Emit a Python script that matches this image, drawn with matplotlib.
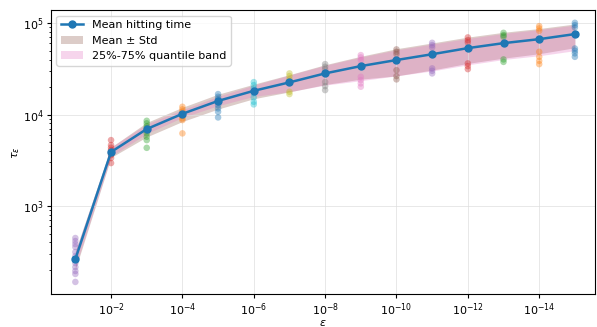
import matplotlib.pyplot as plt
from matplotlib.ticker import NullLocator

# epsilon levels and summary stats of the hitting time
eps = [1e-1, 1e-2, 1e-3, 1e-4, 1e-5, 1e-6, 1e-7, 1e-8,
       1e-9, 1e-10, 1e-11, 1e-12, 1e-13, 1e-14, 1e-15]
mean_tau = [263, 3900, 6950, 10200, 14100, 18200, 22500, 28200,
            33900, 39500, 45700, 53300, 60400, 66800, 75900]
std_tau = [60, 500, 1250, 1800, 2600, 3300, 4800, 6900,
           9500, 13000, 15000, 17000, 19000, 20500, 22000]
q25_tau = [215, 3500, 6200, 9300, 12500, 15800, 17800, 21000,
           23500, 26500, 30000, 35000, 40000, 44000, 50000]
q75_tau = [320, 4400, 7900, 11300, 15800, 21000, 27000, 34500,
           42500, 51000, 59000, 68000, 77000, 85000, 95000]

# individual runs per epsilon
samples = [
    [447, 414, 384, 357, 314, 284, 238, 215, 195, 181, 148],
    [5260, 4640, 4350, 4100, 3950, 3790, 3610, 3350, 2950],
    [8550, 8020, 7480, 7060, 6650, 6230, 5720, 5260, 4330],
    [12170, 11400, 10740, 10120, 9630, 9090, 8710, 6230],
    [16750, 15660, 14660, 13700, 12710, 11690, 10740, 9310],
    [22640, 21000, 19300, 17180, 15400, 13800, 12920],
    [28200, 26360, 24260, 17750, 16750],
    [35640, 33300, 31190, 22700, 20480, 18520],
    [44700, 42170, 39440, 25900, 23810, 21920, 20150],
    [51600, 48560, 45770, 30600, 26360, 24260],
    [60900, 57500, 54240, 32000, 30100, 28200],
    [69800, 65200, 61500, 36300, 33900, 31400],
    [78300, 73900, 70800, 40100, 37700],
    [92700, 87500, 82400, 48560, 42800, 38700, 35600],
    [100800, 95100, 89700, 52800, 49800, 46700, 42800],
]
sample_colors = ["C4", "C3", "C2", "C1", "C0", "C9", "C8", "C7",
                 "C6", "C5", "C4", "C3", "C2", "C1", "C0"]


def main() -> None:
    fig = plt.figure(figsize=(5.97, 3.27), dpi=100)
    ax = fig.add_axes([0.085, 0.1, 0.912, 0.869])

    for e, vals, c in zip(eps, samples, sample_colors):
        ax.scatter([e] * len(vals), vals, s=22, color=c, alpha=0.4,
                   edgecolors="none", zorder=2)

    lower = [m - s for m, s in zip(mean_tau, std_tau)]
    upper = [m + s for m, s in zip(mean_tau, std_tau)]
    ax.fill_between(eps, lower, upper, color="C5", alpha=0.3,
                    linewidth=0, label="Mean ± Std", zorder=1)
    ax.fill_between(eps, q25_tau, q75_tau, color="C6", alpha=0.3,
                    linewidth=0, label="25%-75% quantile band", zorder=1)
    ax.plot(eps, mean_tau, "-o", color="C0", lw=1.8, ms=5,
            label="Mean hitting time", zorder=3)

    ax.set_xscale("log")
    ax.set_yscale("log")
    ax.set_xlim(10 ** -0.31, 10 ** -15.57)
    ax.set_ylim(10 ** 2.035, 10 ** 5.142)
    ax.set_xticks([10.0 ** -k for k in range(2, 15, 2)])
    ax.xaxis.set_minor_locator(NullLocator())
    ax.tick_params(labelsize=8, length=3, pad=2)
    ax.tick_params(which="minor", length=1.8)
    ax.grid(True, which="major", color="#dddddd", lw=0.6, alpha=0.8)

    ax.set_xlabel(r"$\varepsilon$", fontsize=8, labelpad=0)
    ax.set_ylabel(r"$\tau_\varepsilon$", fontsize=8, labelpad=1)

    handles, labels = ax.get_legend_handles_labels()
    order = [2, 0, 1]
    ax.legend([handles[i] for i in order], [labels[i] for i in order],
              loc="upper left", fontsize=8)

    fig.savefig("out.png", dpi=100)


if __name__ == "__main__":
    main()
